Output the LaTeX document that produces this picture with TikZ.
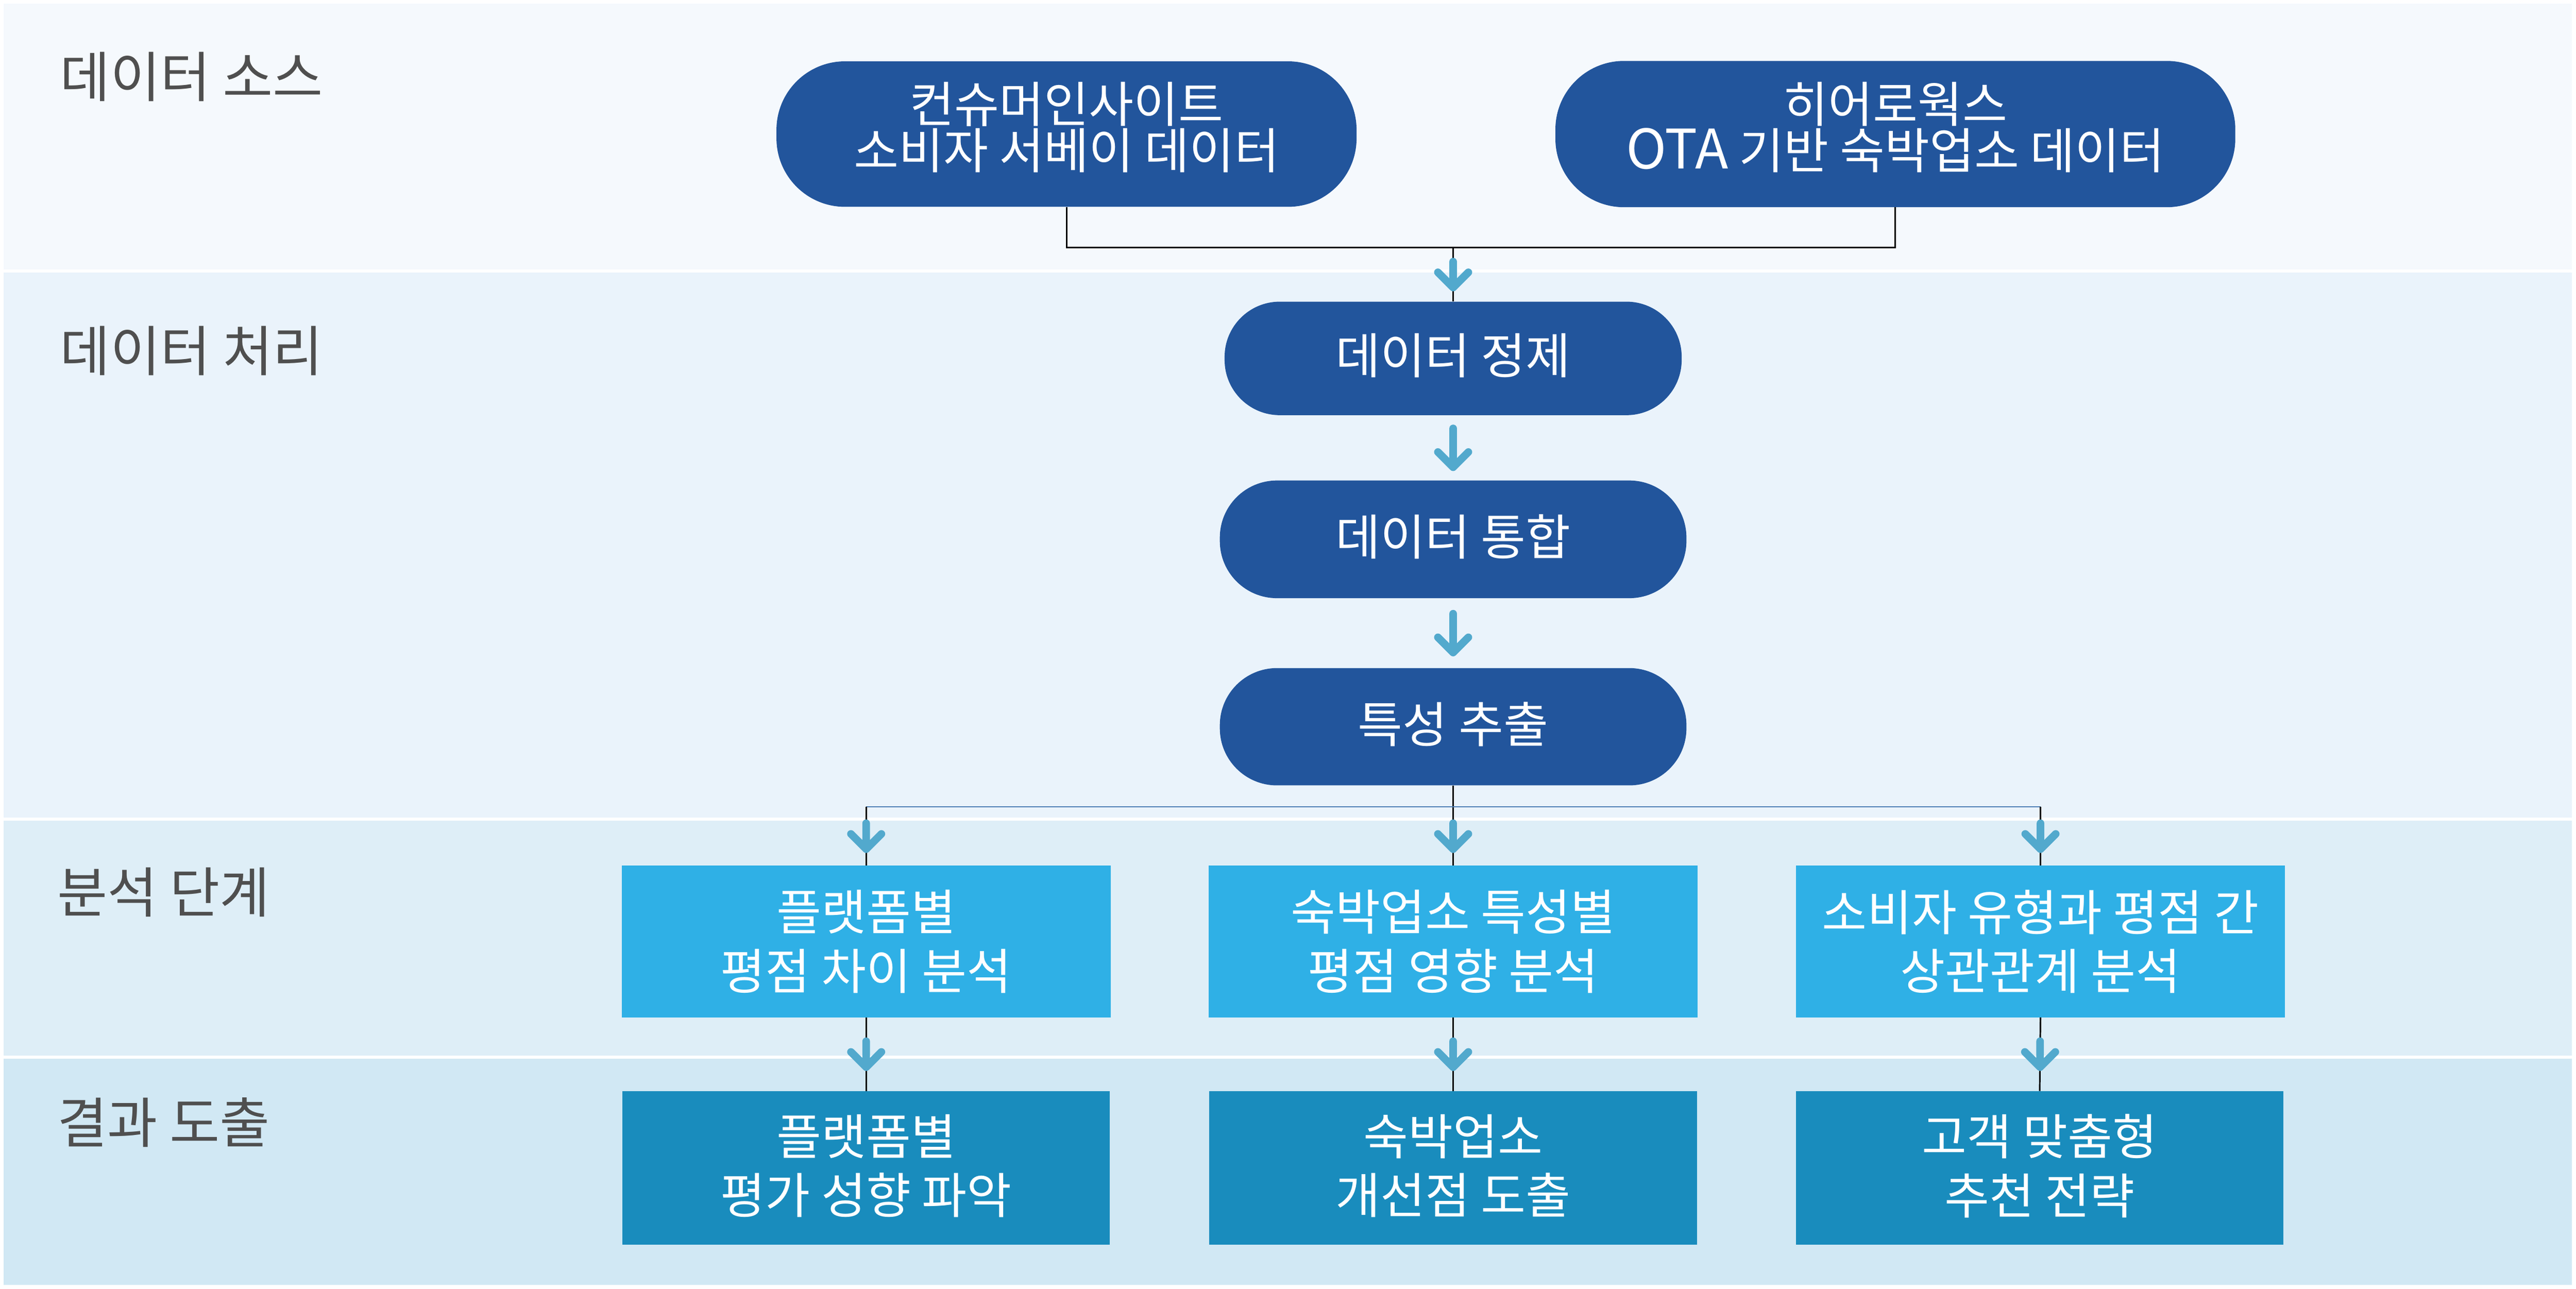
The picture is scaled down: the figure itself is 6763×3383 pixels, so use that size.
\documentclass[tikz,border=0pt]{standalone}
\usepackage{fontspec}
\setmainfont{Noto Sans CJK KR}
\usetikzlibrary{calc}
\definecolor{bandA}{HTML}{F5F9FD}
\definecolor{bandB}{HTML}{EAF3FB}
\definecolor{bandC}{HTML}{DEEEF7}
\definecolor{bandD}{HTML}{D1E8F4}
\definecolor{pillblue}{HTML}{22559C}
\definecolor{anblue}{HTML}{2FB0E6}
\definecolor{reblue}{HTML}{198CBD}
\definecolor{arrblue}{HTML}{52A9CD}
\definecolor{hblue}{HTML}{4A7BB3}
\definecolor{labgray}{HTML}{4F4F4F}
\newcommand{\latinwide}[1]{{\fontsize{143pt}{122pt}\selectfont #1}}
\tikzset{
  pillnode/.style={rectangle, fill=pillblue, text=white, inner sep=0pt, align=center,
    font=\fontsize{128pt}{122pt}\selectfont},
  srcpill/.style={pillnode, rounded corners=180pt, text depth=46pt},
  midpill/.style={pillnode, minimum width=1225pt, minimum height=309pt, rounded corners=150pt, text depth=24pt},
  boxnode/.style={rectangle, text=white, inner sep=0pt, align=center,
    minimum height=398pt, font=\fontsize{128pt}{155pt}\selectfont},
  annode/.style={boxnode, fill=anblue, minimum width=1284pt},
  renode/.style={boxnode, fill=reblue, minimum width=1280pt, minimum height=403pt, text depth=20pt},
  labnode/.style={anchor=west, inner sep=0pt, text=labgray, font=\fontsize{143pt}{150pt}\selectfont},
  link/.style={draw=black, line width=4pt},
  hlink/.style={draw=hblue, line width=3.5pt},
  arrowline/.style={draw=arrblue, line width=20pt, line cap=round, line join=round},
  pics/darr/.style={code={
    \draw[arrowline] (0,-#1) -- (0,#1) (-40,{#1-40}) -- (0,#1) -- (40,{#1-40});
  }},
}
\begin{document}
\begin{tikzpicture}[x=1pt,y=-1pt]
\useasboundingbox (0,0) rectangle (6763,3383);
\fill[white] (0,0) rectangle (6763,3383);
% bands
\fill[bandA] (9,9) rectangle (6752,707);
\fill[bandB] (9,716) rectangle (6752,2146);
\fill[bandC] (9,2155) rectangle (6752,2771);
\fill[bandD] (9,2780) rectangle (6752,3373);
% stage labels
\node[labnode] (lab1) at (158,202) {데이터 소스};
\node[labnode] (lab2) at (158,921) {데이터 처리};
\node[labnode] (lab3) at (150,2343) {분석 단계};
\node[labnode] (lab4) at (150,2947) {결과 도출};
% nodes
\node[srcpill, minimum width=1523pt, minimum height=382pt] (src1) at (2800,352) {컨슈머인사이트\\소비자 서베이 데이터};
\node[srcpill, minimum width=1785pt, minimum height=384pt] (src2) at (4976,352) {히어로웍스\\\latinwide{OTA} 기반 숙박업소 데이터};
\node[midpill, minimum width=1200pt, minimum height=298pt, rounded corners=145pt] (clean) at (3815,941) {데이터 정제};
\node[midpill] (merge) at (3815,1416) {데이터 통합};
\node[midpill, minimum height=308pt] (feat) at (3815,1908) {특성 추출};
\node[annode] (an1) at (2274,2472) {플랫폼별\\평점 차이 분석};
\node[annode] (an2) at (3815,2472) {숙박업소 특성별\\평점 영향 분석};
\node[annode] (an3) at (5357,2472) {소비자 유형과 평점 간\\상관관계 분석};
\node[renode] (re1) at (2274,3066) {플랫폼별\\평가 성향 파악};
\node[renode] (re2) at (3815,3066) {숙박업소\\개선점 도출};
\node[renode] (re3) at (5355,3066) {고객 맞춤형\\추천 전략};
% connectors
\coordinate (jtop) at (3815,650);
\coordinate (jmid) at (3815,2118);
\draw[link] (src1.south) |- (jtop) -| (src2.south);
\draw[link] (jtop) -- (clean.north);
\draw[link] (feat.south) -- (an2.north);
\draw[hlink] (an1.north |- jmid) -- (an3.north |- jmid);
\draw[link] (an1.north |- jmid) -- (an1.north);
\draw[link] (an3.north |- jmid) -- (an3.north);
\draw[link] (an1.south) -- (re1.north);
\draw[link] (an2.south) -- (re2.north);
\draw[link] (an3.south) -- (re3.north);
% arrows
\pic at ($(jtop)!0.5!(clean.north)$) {darr=34};
\pic at ($(clean.south)!0.5!(merge.north)$) {darr=51};
\pic at ($(merge.south)!0.5!(feat.north)$) {darr=51};
\pic at ($(an1.north |- jmid)!0.5!(an1.north)$) {darr=34};
\pic at ($(jmid)!0.5!(an2.north)$) {darr=34};
\pic at ($(an3.north |- jmid)!0.5!(an3.north)$) {darr=34};
\pic at ($(an1.south)!0.5!(re1.north)$) {darr=34};
\pic at ($(an2.south)!0.5!(re2.north)$) {darr=34};
\pic at ($(an3.south)!0.5!(re3.north)$) {darr=34};
\end{tikzpicture}
\end{document}
